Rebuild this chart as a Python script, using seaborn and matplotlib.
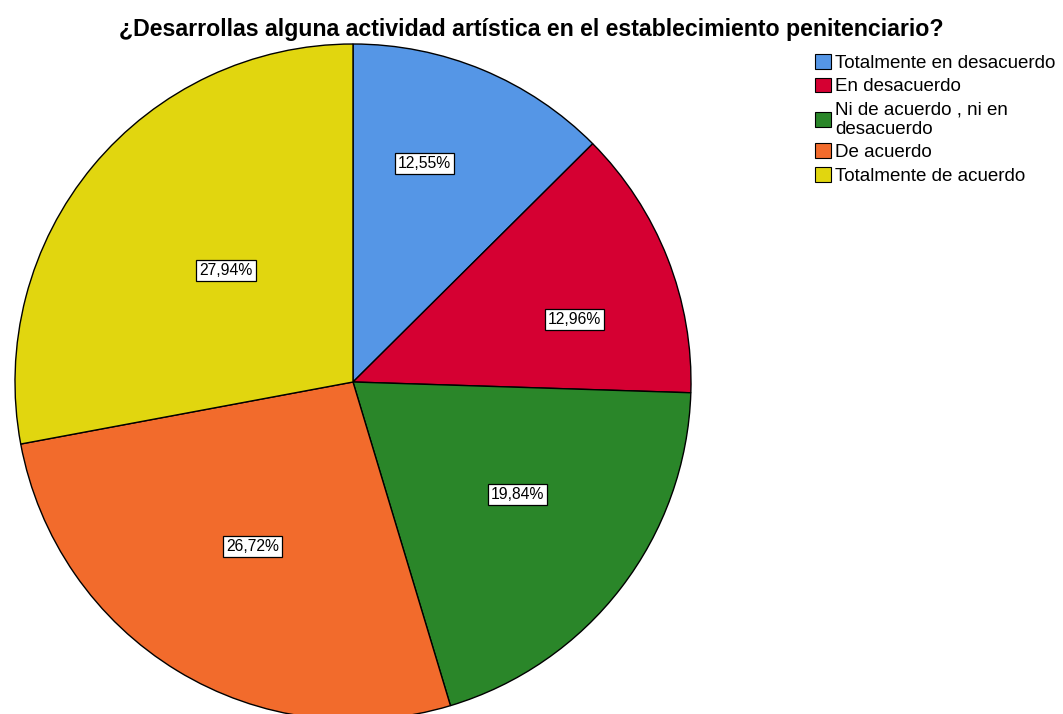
# Pie chart of survey answers (SPSS-style look)
import matplotlib
matplotlib.use("Agg")
import numpy as np
import matplotlib.pyplot as plt
import seaborn as sns

categorias = ["Totalmente en desacuerdo", "En desacuerdo",
              "Ni de acuerdo , ni en\ndesacuerdo", "De acuerdo",
              "Totalmente de acuerdo"]
porcentajes = [12.55, 12.96, 19.84, 26.72, 27.94]
colores = ["#5596E6", "#D50032", "#2A8629", "#F26B2C", "#E1D60F"]

# label placement tweaks (fraction of radius, angle offset in degrees)
dist_etiqueta = [0.68, 0.68, 0.59, 0.57, 0.50]
desvio_ang = [4.5, -5.8, 3.2, 0.0, -1.5]

sns.set_theme(style="white")
plt.rcParams["font.family"] = ["Liberation Sans", "DejaVu Sans"]
plt.rcParams["text.color"] = "black"

fig = plt.figure(figsize=(10.63, 7.14), dpi=100)
# pie axes: centre ~ (353, 382) px, radius ~338 px
R = 338
ax = fig.add_axes([(353 - R) / 1063, (714 - 382 - R) / 714, 2 * R / 1063, 2 * R / 714])

pal = sns.color_palette(colores)
wedges, _ = ax.pie(porcentajes, colors=pal, startangle=90, counterclock=False,
                   wedgeprops=dict(edgecolor="black", linewidth=1.0))
for w, p, d, off in zip(wedges, porcentajes, dist_etiqueta, desvio_ang):
    ang = np.deg2rad((w.theta1 + w.theta2) / 2 + off)
    ax.text(d * np.cos(ang), d * np.sin(ang), f"{p:.2f}%".replace(".", ","),
            ha="center", va="center", fontsize=11.3, color="black",
            bbox=dict(facecolor="white", edgecolor="black", boxstyle="square,pad=0.2", linewidth=0.9))
ax.set_xlim(-1, 1)
ax.set_ylim(-1, 1)
ax.set_aspect("equal")
ax.axis("off")

fig.text(0.5, 0.958, "¿Desarrollas alguna actividad artística en el establecimiento penitenciario?",
         ha="center", va="center", fontsize=16.7, fontweight="bold", color="black")

leg = fig.legend(wedges, categorias, loc="upper left", bbox_to_anchor=(0.760, 0.935),
                 frameon=False, fontsize=13.5, handlelength=0.85, handleheight=0.85,
                 handletextpad=0.2, labelspacing=0.3, borderaxespad=0)
for h in leg.legend_handles:
    h.set_edgecolor("black")
    h.set_linewidth(0.8)

fig.savefig("out.png", dpi=100)
